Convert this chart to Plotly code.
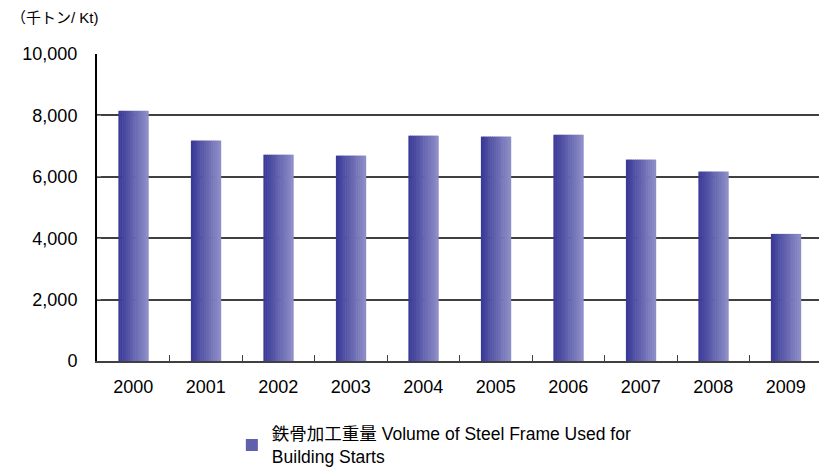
import plotly.graph_objects as go

years = ["2000", "2001", "2002", "2003", "2004", "2005", "2006", "2007", "2008", "2009"]
volume = [8150, 7180, 6720, 6690, 7340, 7310, 7370, 6560, 6170, 4140]
series_name = "鉄骨加工重量 Volume of Steel Frame Used for<br>Building Starts"
y_ticks = [0, 2000, 4000, 6000, 8000, 10000]

FONT = "Liberation Sans, Arial, Noto Sans CJK JP, sans-serif"

fig = go.Figure()

# horizontal gradient approximated with thin adjacent bar slices
n = 16
bar_w = 0.41
c0 = (0x3a, 0x3a, 0x98)
c1 = (0x8c, 0x8c, 0xc6)
for i in range(n):
    t = i / (n - 1)
    col = "rgb(%d,%d,%d)" % tuple(round(a + (b - a) * t) for a, b in zip(c0, c1))
    fig.add_trace(go.Bar(
        x=years, y=volume,
        width=bar_w / n + 0.008,
        offset=-bar_w / 2 + i * bar_w / n,
        marker=dict(color=col, line=dict(width=0)),
        name=series_name,
        showlegend=(i == 7),
        hoverinfo="y",
    ))

fig.update_layout(
    width=827, height=469,
    barmode="overlay",
    plot_bgcolor="white", paper_bgcolor="white",
    margin=dict(l=89, r=13, t=46, b=116, autoexpand=False),
    font=dict(family=FONT, size=18, color="black"),
    showlegend=True,
    legend=dict(
        orientation="h", x=0.186, xanchor="left", y=-0.178, yanchor="top",
        font=dict(size=17.5, family=FONT), itemwidth=30,
        tracegroupgap=0,
    ),
    annotations=[dict(
        text="（千トン/ Kt)", xref="paper", yref="paper",
        x=-0.121, y=1.12, xanchor="left", yanchor="middle",
        showarrow=False, font=dict(size=15, family=FONT),
    )],
)

fig.update_yaxes(
    range=[0, 10000], tickvals=y_ticks, tickformat=",d",
    showgrid=True, gridcolor="#404040", gridwidth=1.5,
    showline=True, linecolor="black", linewidth=2,
    ticks="inside", ticklen=4, tickcolor="#808080",
    tickfont=dict(size=18), ticklabelstandoff=14,
    zeroline=False, automargin=False,
)
fig.update_xaxes(
    showline=True, linecolor="#404040", linewidth=2,
    showgrid=False,
    ticks="inside", ticklen=6, tickcolor="#404040", tickson="boundaries",
    tickfont=dict(size=18), ticklabelstandoff=8, automargin=False,
)

fig.write_html("out.html")
